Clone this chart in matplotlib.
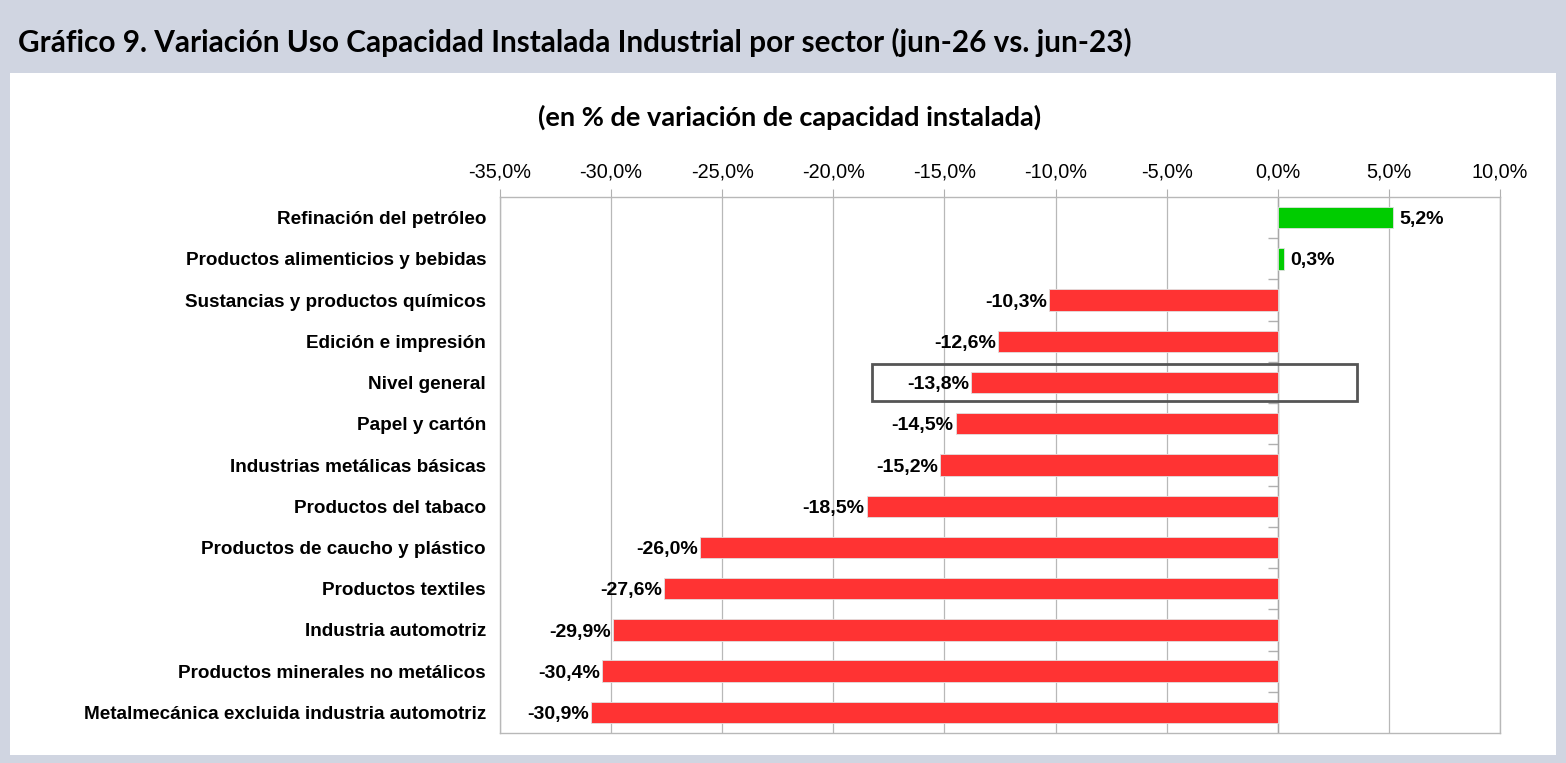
import matplotlib.pyplot as plt
from matplotlib.patches import Rectangle
from matplotlib import font_manager

sectors = ["Refinación del petróleo", "Productos alimenticios y bebidas",
           "Sustancias y productos químicos", "Edición e impresión", "Nivel general",
           "Papel y cartón", "Industrias metálicas básicas", "Productos del tabaco",
           "Productos de caucho y plástico", "Productos textiles", "Industria automotriz",
           "Productos minerales no metálicos", "Metalmecánica excluida industria automotriz"]
variation = [5.2, 0.3, -10.3, -12.6, -13.8, -14.5, -15.2, -18.5, -26.0, -27.6, -29.9, -30.4, -30.9]
xticks = [-35, -30, -25, -20, -15, -10, -5, 0, 5, 10]
highlight = "Nivel general"

names = {f.name for f in font_manager.fontManager.ttflist}
narrow = "Liberation Sans Narrow" if "Liberation Sans Narrow" in names else "Liberation Sans"

fig = plt.figure(figsize=(15.66, 7.63), dpi=100)
fig.patch.set_facecolor("#d0d5e1")
fig.patches.append(Rectangle((10 / 1566, 8 / 763), 1546 / 1566, 682 / 763,
                             transform=fig.transFigure, facecolor="white", edgecolor="none", zorder=-5))

fig.text(18 / 1566, 1 - 42 / 763, "Gráfico 9. Variación Uso Capacidad Instalada Industrial por sector (jun-26 vs. jun-23)",
         family="Lato", weight="bold", fontsize=21.4, va="center", ha="left")
fig.text(790 / 1566, 1 - 117 / 763, "(en % de variación de capacidad instalada)",
         family="Lato", weight="bold", fontsize=19.5, va="center", ha="center")

ax = fig.add_axes([500 / 1566, 1 - 733 / 763, 1000 / 1566, 536 / 763])
ax.set_zorder(2)
ypos = list(range(len(sectors)))
colors = ["#00cc00" if v > 0 else "#ff3333" for v in variation]
ax.barh(ypos, variation, height=0.52, color=colors, edgecolor="#e0e0e0", linewidth=0.6, zorder=3)

for y, v in zip(ypos, variation):
    txt = f"{v:.1f}%".replace(".", ",")
    if v > 0:
        ax.annotate(txt, (v, y), xytext=(4, -1.5), textcoords="offset points", ha="left", va="center",
                    family=narrow, weight="bold", fontsize=14, zorder=4)
    else:
        ax.annotate(txt, (v, y), xytext=(-1.5, -1.5), textcoords="offset points", ha="right", va="center",
                    family=narrow, weight="bold", fontsize=14, zorder=4)

ax.set_xlim(-35, 10)
ax.set_ylim(len(sectors) - 0.5, -0.5)
ax.set_xticks(xticks)
ax.set_xticklabels([f"{t:.1f}%".replace(".", ",") for t in xticks], family=narrow, fontsize=14.3)
ax.xaxis.tick_top()
ax.tick_params(axis="x", length=6, color="#b0b0b0", pad=5)
ax.grid(axis="x", color="#b8b8b8", linewidth=0.9, zorder=1)

ax.set_yticks(ypos)
ax.set_yticklabels(sectors, family="Liberation Sans", weight="bold", fontsize=13.6)
ax.tick_params(axis="y", length=0, pad=10)

# small category ticks on the zero line
bounds = [i + 0.5 for i in ypos[:-1]]
ax.hlines(bounds, -0.45, 0, color="#b0b0b0", linewidth=1, zorder=2)
ax.axvline(0, color="#a8a8a8", linewidth=1, zorder=2)

for s in ax.spines.values():
    s.set_color("#b8b8b8")
    s.set_linewidth(1)

i = sectors.index(highlight)
ax.add_patch(Rectangle((-18.25, i - 0.44), 21.8, 0.88, fill=False, edgecolor="#555555",
                       linewidth=2, zorder=5, clip_on=False))

fig.savefig("out.png", dpi=100, facecolor=fig.get_facecolor())
